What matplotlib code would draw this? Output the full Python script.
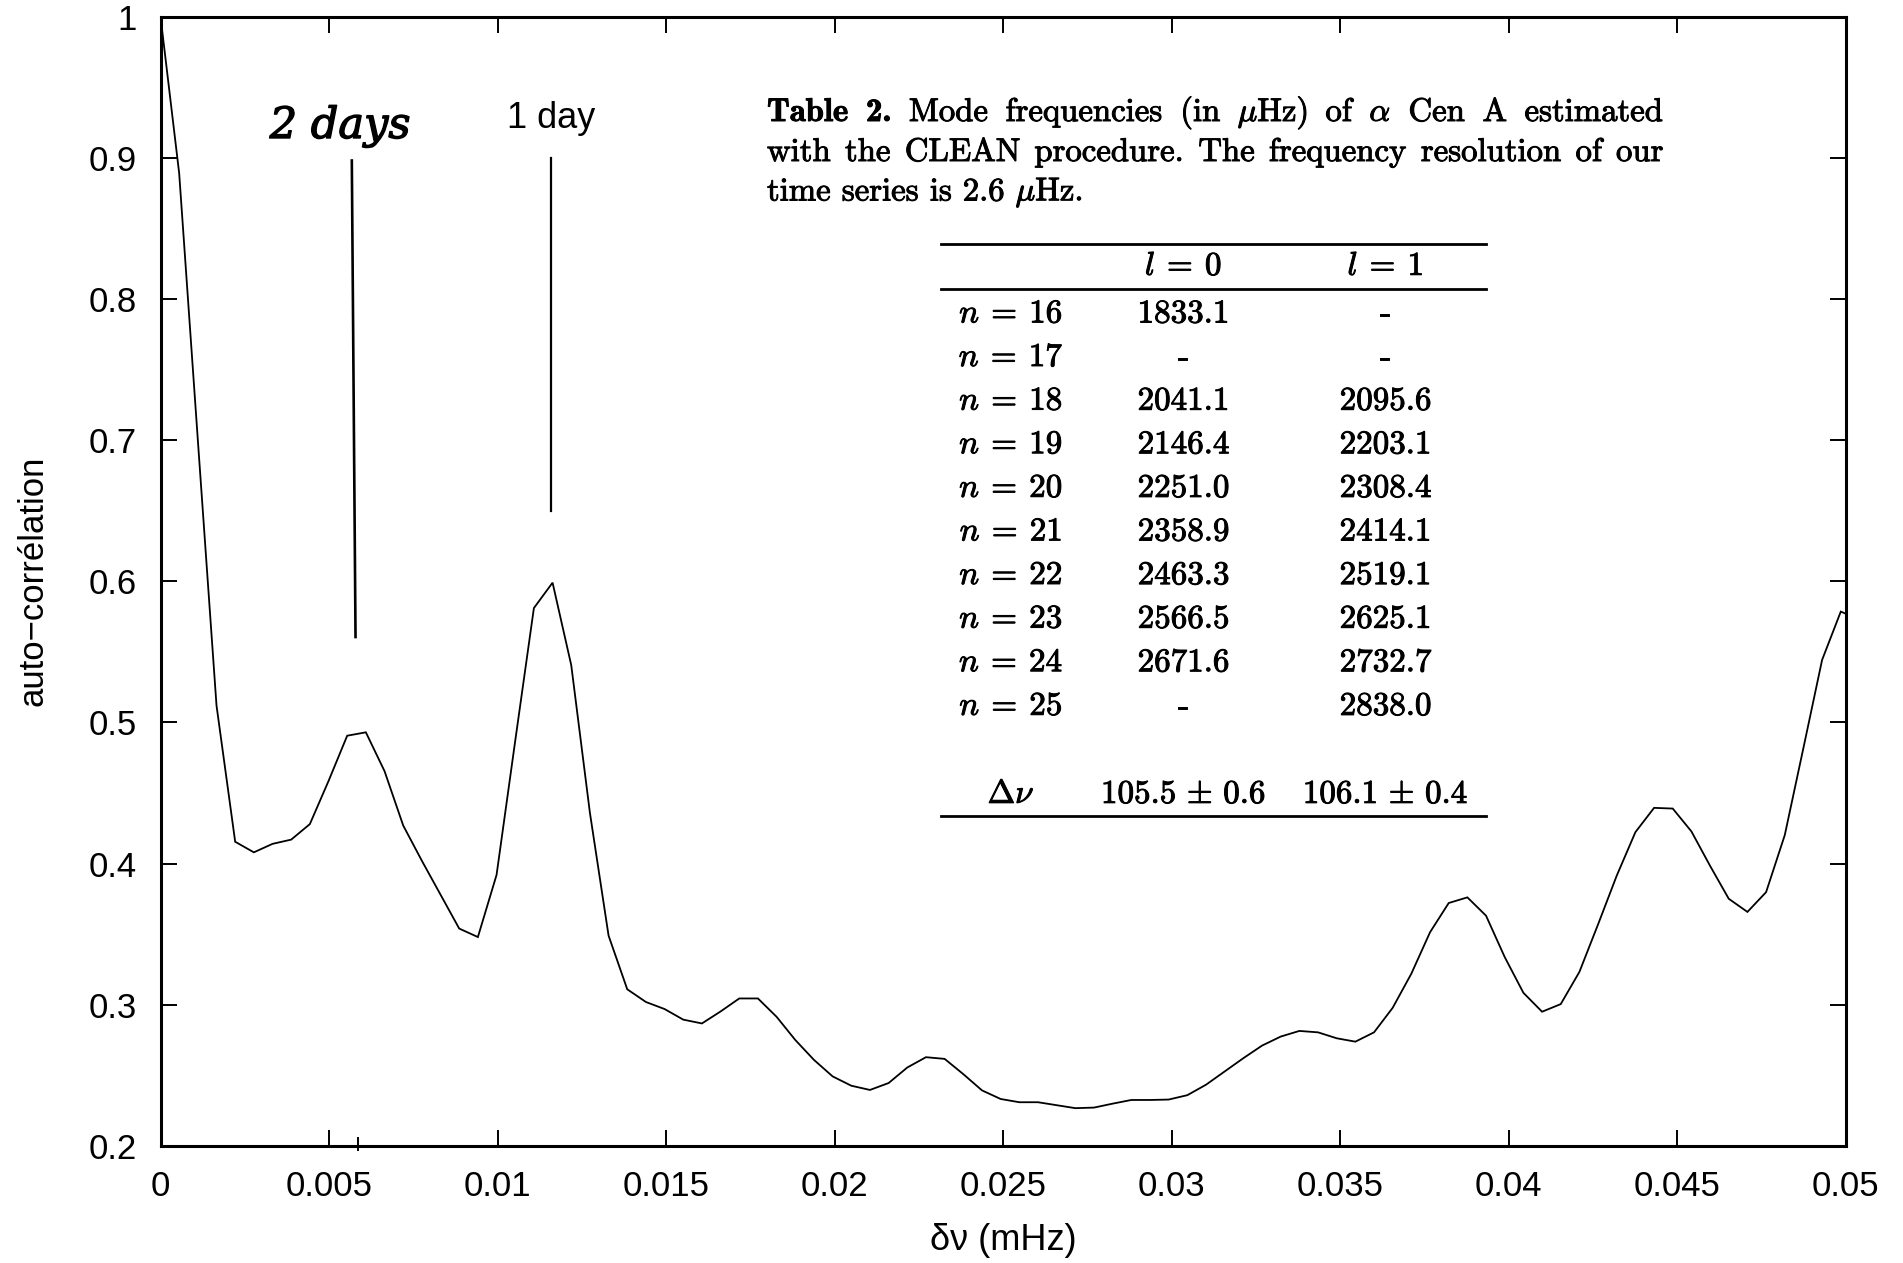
import matplotlib
matplotlib.use("Agg")
import numpy as np
import matplotlib.pyplot as plt
from matplotlib.lines import Line2D
from matplotlib.ticker import FixedLocator, FixedFormatter
import matplotlib.patheffects as pe

plt.rcParams["font.family"] = ["Liberation Sans", "DejaVu Sans"]
plt.rcParams["mathtext.fontset"] = "cm"

# ---------------------------------------------------------------------------
# Autocorrelation of the alpha Cen A power spectrum, one value per frequency bin
# ---------------------------------------------------------------------------
BIN_WIDTH = 0.000554  # mHz
acf = [
    1.000, 0.889, 0.700, 0.512, 0.4155, 0.408, 0.414, 0.417, 0.428, 0.4585,
    0.4906, 0.493, 0.4655, 0.427, 0.402, 0.378, 0.354, 0.348, 0.392, 0.487,
    0.581, 0.599, 0.5406, 0.436, 0.349, 0.311, 0.302, 0.297, 0.2895, 0.2868,
    0.2953, 0.3045, 0.3045, 0.2915, 0.2751, 0.261, 0.2493, 0.2427, 0.2397, 0.2446,
    0.2556, 0.2629, 0.2617, 0.2509, 0.2394, 0.2333, 0.2310, 0.2310, 0.2289, 0.2268,
    0.2272, 0.2300, 0.2326, 0.2326, 0.2329, 0.236, 0.2434, 0.2528, 0.2622, 0.2711,
    0.2775, 0.2815, 0.2805, 0.2763, 0.2739, 0.2805, 0.2979, 0.3221, 0.3514, 0.3721,
    0.3761, 0.3631, 0.3338, 0.3085, 0.2951, 0.3005, 0.3233, 0.357, 0.3915, 0.4223,
    0.4395, 0.439, 0.4228, 0.3984, 0.3751, 0.3658, 0.3798, 0.4202, 0.482, 0.5443,
    0.5785, 0.573,
]
freq = np.arange(len(acf)) * BIN_WIDTH

x_ticks = [0, 0.005, 0.01, 0.015, 0.02, 0.025, 0.03, 0.035, 0.04, 0.045, 0.05]
x_tick_labels = ["0", "0.005", "0.01", "0.015", "0.02", "0.025", "0.03",
                 "0.035", "0.04", "0.045", "0.05"]
y_ticks = [0.2, 0.3, 0.4, 0.5, 0.6, 0.7, 0.8, 0.9, 1.0]
y_tick_labels = ["0.2", "0.3", "0.4", "0.5", "0.6", "0.7", "0.8", "0.9", "1"]

# Daily alias markers (mHz)
ONE_DAY = 1.0 / 86.4
TWO_DAYS = 1.0 / 172.8

# Table 2 contents; words flagged True are set in bold
table_caption = [
    [("Table", True), ("2.", True), ("Mode", False), ("frequencies", False),
     ("(in", False), ("$\\mu$Hz)", False), ("of", False), ("$\\alpha$", False),
     ("Cen", False), ("A", False), ("estimated", False)],
    [("with", False), ("the", False), ("CLEAN", False), ("procedure.", False),
     ("The", False), ("frequency", False), ("resolution", False),
     ("of", False), ("our", False)],
    [("time", False), ("series", False), ("is", False), ("2.6", False),
     ("$\\mu$Hz.", False)],
]
col_headers = ["$l\\:=\\:0$", "$l\\:=\\:1$"]
row_labels = ["$n\\:=\\:16$", "$n\\:=\\:17$", "$n\\:=\\:18$", "$n\\:=\\:19$",
              "$n\\:=\\:20$", "$n\\:=\\:21$", "$n\\:=\\:22$", "$n\\:=\\:23$",
              "$n\\:=\\:24$", "$n\\:=\\:25$"]
freq_l0 = ["1833.1", "-", "2041.1", "2146.4", "2251.0", "2358.9", "2463.3",
           "2566.5", "2671.6", "-"]
freq_l1 = ["-", "-", "2095.6", "2203.1", "2308.4", "2414.1", "2519.1",
           "2625.1", "2732.7", "2838.0"]
spacing_label = "$\\Delta\\nu$"
spacing_values = ["$105.5\\,\\pm\\,0.6$", "$106.1\\,\\pm\\,0.4$"]

# ---------------------------------------------------------------------------
W, H, DPI = 1903, 1263, 100
fig = plt.figure(figsize=(W / DPI, H / DPI), dpi=DPI)
fig.patch.set_facecolor("white")


def fx(px):
    return px / W


def fy(py):
    return 1.0 - py / H


ax_left, ax_right, ax_top, ax_bottom = 160.5, 1845.5, 16.5, 1146.0
ax = fig.add_axes([fx(ax_left), fy(ax_bottom),
                   (ax_right - ax_left) / W, (ax_bottom - ax_top) / H])

ax.plot(freq, acf, color="black", lw=1.3, solid_joinstyle="miter")
ax.set_xlim(0, 0.05)
ax.set_ylim(0.2, 1.0)

ax.xaxis.set_major_locator(FixedLocator(x_ticks))
ax.xaxis.set_major_formatter(FixedFormatter(x_tick_labels))
ax.yaxis.set_major_locator(FixedLocator(y_ticks))
ax.yaxis.set_major_formatter(FixedFormatter(y_tick_labels))
ax.tick_params(direction="in", length=11.5, width=1.4, top=True, right=True,
               labelsize=25, colors="black")
ax.tick_params(axis="x", pad=17)
ax.tick_params(axis="y", pad=17)
for sp in ax.spines.values():
    sp.set_linewidth(2.2)

# axis titles
fig.text(fx(33), fy(581), "auto\u2212corrélation", rotation=90,
         ha="center", va="center", fontsize=25)
fig.text(fx(1003), fy(1240), "δν (mHz)", ha="center", va="center",
         fontsize=26)

# alias markers
ax.plot([TWO_DAYS - 0.00011, TWO_DAYS], [0.898, 0.5605], color="black",
        lw=1.9)
ax.plot([ONE_DAY, ONE_DAY], [0.900, 0.650], color="black", lw=1.6)
ax.plot([0.00586, 0.00586], [0.1975, 0.2055], color="black", lw=1.4,
        clip_on=False)
fig.text(fx(551), fy(128), "1 day", ha="center", va="baseline", fontsize=26)
fig.text(fx(340), fy(138), "2 days", ha="center", va="baseline",
         fontsize=31, family="DejaVu Serif", style="italic",
         path_effects=[pe.withStroke(linewidth=1.0, foreground="black")])

# ---------------------------------------------------------------------------
# Table 2 caption, set as justified lines
# ---------------------------------------------------------------------------
CAP_SIZE = 23.6
INK = [pe.withStroke(linewidth=0.7, foreground="black")]
renderer = fig.canvas.get_renderer()


def place_words(words, x_left, x_right, y_base, size, justify):
    arts = [fig.text(fx(x_left), fy(y_base), w, fontsize=size,
                     family="cmb10" if bold else "cmr10",
                     ha="left", va="baseline", path_effects=INK)
            for w, bold in words]
    widths = [a.get_window_extent(renderer=renderer).width for a in arts]
    if justify:
        gap = (x_right - x_left - sum(widths)) / (len(words) - 1)
    else:
        gap = 0.333 * size * DPI / 72
    x = x_left
    for a, w in zip(arts, widths):
        a.set_x(fx(x))
        x += w + gap


cap_left, cap_right = 767.0, 1663.5
cap_baselines = [121.0, 161.0, 200.5]
for i, words in enumerate(table_caption):
    place_words(words, cap_left, cap_right, cap_baselines[i], CAP_SIZE,
                justify=(i < len(table_caption) - 1))

# rules
rule_x0, rule_x1 = 940.6, 1486.0
for ry in (244.0, 289.0, 816.0):
    fig.add_artist(Line2D([fx(rule_x0), fx(rule_x1)], [fy(ry), fy(ry)],
                          transform=fig.transFigure, color="black", lw=2.0))

TAB_SIZE = 23.8
col_x = [1011.0, 1183.5, 1385.5]
header_base = 275.0
row_base0, row_step = 322.5, 43.6
delta_base = 803.0


def cell(x, y, s):
    fig.text(fx(x), fy(y), s, fontsize=TAB_SIZE, family="cmr10",
             ha="center", va="baseline", path_effects=INK)


for j, h in enumerate(col_headers):
    cell(col_x[j + 1], header_base, h)
for i, lab in enumerate(row_labels):
    yb = row_base0 + i * row_step
    cell(col_x[0], yb, lab)
    cell(col_x[1], yb, freq_l0[i])
    cell(col_x[2], yb, freq_l1[i])
cell(col_x[0], delta_base, spacing_label)
cell(col_x[1], delta_base, spacing_values[0])
cell(col_x[2], delta_base, spacing_values[1])

fig.savefig("out.png", dpi=DPI, facecolor="white")
